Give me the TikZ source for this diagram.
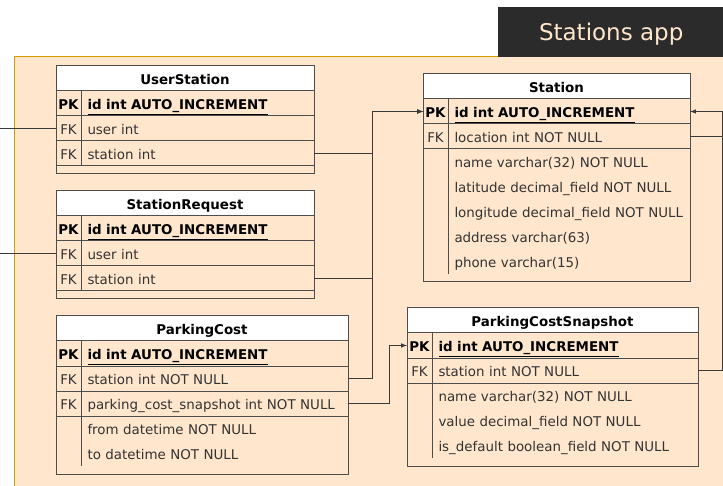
\documentclass[tikz,border=0pt]{standalone}
\usepackage{fontspec}
\setmainfont{DejaVu Sans}
\usetikzlibrary{positioning}

\definecolor{peach}{HTML}{FFE6CC}
\definecolor{amber}{HTML}{D79B00}
\definecolor{darkbox}{HTML}{2B2B2B}
\definecolor{tabline}{HTML}{4D4D4D}
\definecolor{connline}{HTML}{3A3A3A}
\definecolor{txtgray}{HTML}{333333}

\newcommand{\tabfont}{\fontsize{13.4}{16}\selectfont}

\tikzset{cell/.style={draw=tabline, line width=1pt, outer sep=0pt, inner ysep=0pt,
         minimum height=25pt, text height=12.5pt, text depth=1pt, font=\tabfont},
         hdr/.style={cell, fill=white, anchor=north west, font=\tabfont\bfseries, text=black},
         keycell/.style={cell, inner xsep=0pt, minimum width=25pt, text=txtgray},
         pkcell/.style={keycell, font=\tabfont\bfseries, text=black},
         field/.style={cell, inner xsep=6.5pt, align=left, text=txtgray},
         pkfield/.style={field, font=\tabfont\bfseries, text=black},
         attr/.style={field, draw=none},
         frame/.style={draw=tabline, line width=1pt},
         conn/.style={draw=connline, line width=1pt},
         % field widths of the five tables
         usw/.style={text width=220pt},
         pcw/.style={text width=254pt},
         stw/.style={text width=229pt},
         psw/.style={text width=253pt}}

\begin{document}
\begin{tikzpicture}[x=1pt, y=-1pt, >=latex]
    \useasboundingbox (0,0) rectangle (723,486);
    \clip (0,0) rectangle (723,486);

    \draw[fill=peach, draw=amber, line width=1pt] (14,57) rectangle (760,520);
    \node[fill=darkbox, text=peach, anchor=north west, minimum width=226pt, minimum height=50pt,
          inner sep=0pt, font=\fontsize{23}{23}\selectfont, text height=16.8pt, text depth=0pt]
          (app) at (498,7) {Stations app};

    % UserStation
    \node[hdr, minimum width=258pt] (us) at (56,66) {UserStation};
    \node[pkcell, anchor=north west] (us-pk) at (us.south west) {PK};
    \node[pkfield, usw, right=0pt of us-pk] (us-id) {\underline{id int AUTO\_INCREMENT}};
    \node[keycell, below=0pt of us-pk] (us-fk1) {FK};
    \node[field, usw, right=0pt of us-fk1] (us-user) {user int};
    \node[keycell, below=0pt of us-fk1] (us-fk2) {FK};
    \node[field, usw, right=0pt of us-fk2] (us-station) {station int};
    \draw[frame] (us.north west) rectangle ([yshift=-8pt]us-station.south east);

    % StationRequest
    \node[hdr, minimum width=258pt] (sr) at (56,191) {StationRequest};
    \node[pkcell, anchor=north west] (sr-pk) at (sr.south west) {PK};
    \node[pkfield, usw, right=0pt of sr-pk] (sr-id) {\underline{id int AUTO\_INCREMENT}};
    \node[keycell, below=0pt of sr-pk] (sr-fk1) {FK};
    \node[field, usw, right=0pt of sr-fk1] (sr-user) {user int};
    \node[keycell, below=0pt of sr-fk1] (sr-fk2) {FK};
    \node[field, usw, right=0pt of sr-fk2] (sr-station) {station int};
    \draw[frame] (sr.north west) rectangle ([yshift=-8pt]sr-station.south east);

    % ParkingCost
    \node[hdr, minimum width=292pt] (pc) at (56,316) {ParkingCost};
    \node[pkcell, anchor=north west] (pc-pk) at (pc.south west) {PK};
    \node[pkfield, pcw, right=0pt of pc-pk] (pc-id) {\underline{id int AUTO\_INCREMENT}};
    \node[keycell, below=0pt of pc-pk] (pc-fk1) {FK};
    \node[field, pcw, right=0pt of pc-fk1] (pc-station) {station int NOT NULL};
    \node[keycell, below=0pt of pc-fk1] (pc-fk2) {FK};
    \node[field, pcw, right=0pt of pc-fk2] (pc-snap) {parking\_cost\_snapshot int NOT NULL};
    \node[attr, pcw, below=0pt of pc-snap] (pc-from) {from datetime NOT NULL};
    \node[attr, pcw, below=0pt of pc-from] (pc-to) {to datetime NOT NULL};
    \draw[frame] (pc-fk2.south east) -- (pc-to.south west);
    \draw[frame] (pc.north west) rectangle ([yshift=-8pt]pc-to.south east);

    % Station
    \node[hdr, minimum width=267pt] (st) at (423,74) {Station};
    \node[pkcell, anchor=north west] (st-pk) at (st.south west) {PK};
    \node[pkfield, stw, right=0pt of st-pk] (st-id) {\underline{id int AUTO\_INCREMENT}};
    \node[keycell, below=0pt of st-pk] (st-fk1) {FK};
    \node[field, stw, right=0pt of st-fk1] (st-loc) {location int NOT NULL};
    \node[attr, stw, below=0pt of st-loc] (st-name) {name varchar(32) NOT NULL};
    \node[attr, stw, below=0pt of st-name] (st-lat) {latitude decimal\_field NOT NULL};
    \node[attr, stw, below=0pt of st-lat] (st-lon) {longitude decimal\_field NOT NULL};
    \node[attr, stw, below=0pt of st-lon] (st-addr) {address varchar(63)};
    \node[attr, stw, below=0pt of st-addr] (st-phone) {phone varchar(15)};
    \draw[frame] (st-fk1.south east) -- (st-phone.south west);
    \draw[frame] (st.north west) rectangle ([yshift=-8pt]st-phone.south east);

    % ParkingCostSnapshot
    \node[hdr, minimum width=291pt] (ps) at (407,308) {ParkingCostSnapshot};
    \node[pkcell, anchor=north west] (ps-pk) at (ps.south west) {PK};
    \node[pkfield, psw, right=0pt of ps-pk] (ps-id) {\underline{id int AUTO\_INCREMENT}};
    \node[keycell, below=0pt of ps-pk] (ps-fk1) {FK};
    \node[field, psw, right=0pt of ps-fk1] (ps-station) {station int NOT NULL};
    \node[attr, psw, below=0pt of ps-station] (ps-name) {name varchar(32) NOT NULL};
    \node[attr, psw, below=0pt of ps-name] (ps-value) {value decimal\_field NOT NULL};
    \node[attr, psw, below=0pt of ps-value] (ps-def) {is\_default boolean\_field NOT NULL};
    \draw[frame] (ps-fk1.south east) -- (ps-def.south west);
    \draw[frame] (ps.north west) rectangle ([yshift=-8pt]ps-def.south east);

    % foreign keys
    \coordinate (userbus) at (-2,0);
    \coordinate (stbus) at (372.7,0);
    \coordinate (psbus) at (389.3,0);
    \coordinate (rightbus) at (722.5,0);

    \draw[conn] (userbus |- us-fk1.west) -- (us-fk1.west);
    \draw[conn] (userbus |- sr-fk1.west) -- (sr-fk1.west);
    \draw[conn,->] (us-station.east) -| (stbus |- st-pk.west) -- (st-pk.west);
    \draw[conn,->] (sr-station.east) -| (stbus |- st-pk.west) -- (st-pk.west);
    \draw[conn,->] (pc-station.east) -| (stbus |- st-pk.west) -- (st-pk.west);
    \draw[conn,->] (pc-snap.east) -| (psbus |- ps-pk.west) -- (ps-pk.west);
    \draw[conn,->] (ps-station.east) -| (rightbus |- st-id.east) -- (st-id.east);
    \draw[conn] (st-loc.east) -- (rightbus |- st-loc.east);
\end{tikzpicture}
\end{document}
